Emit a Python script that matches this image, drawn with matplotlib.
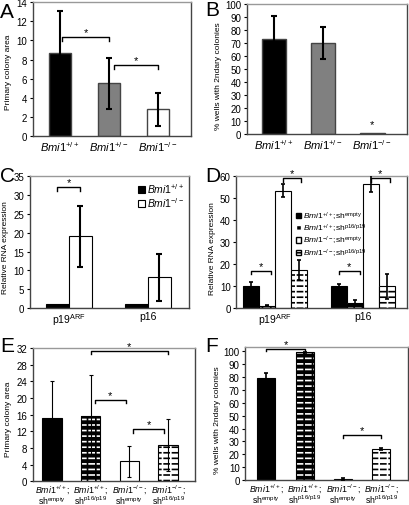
import matplotlib
matplotlib.use('Agg')
import matplotlib.pyplot as plt
from matplotlib.patches import Patch
import numpy as np

plt.rcParams['font.family'] = ['Liberation Sans', 'DejaVu Sans']
plt.rcParams['mathtext.fontset'] = 'custom'
plt.rcParams['mathtext.rm'] = 'Liberation Sans'
plt.rcParams['mathtext.it'] = 'Liberation Sans:italic'
plt.rcParams['hatch.linewidth'] = 1.2

# genotype labels
wt = r'$\mathit{Bmi1}^{+/+}$'
het = r'$\mathit{Bmi1}^{+/-}$'
ko = r'$\mathit{Bmi1}^{-/-}$'
genes = [r'p19$^{\mathrm{ARF}}$', 'p16']

# panel A: primary colony area
a_vals = [8.7, 5.5, 2.8]
a_err = [4.4, 2.7, 1.7]

# panel B: % wells with secondary colonies
b_vals = [73, 70, 1]
b_err = [18, 12.5, 0]

# panel C: relative RNA expression
c_wt = [1, 1]
c_ko = [19, 8.2]
c_ko_err = [8.1, 6.2]

# panel D: relative RNA expression with shRNA
d_wt_empty = [10, 10]
d_wt_empty_err = [2, 1.1]
d_wt_sh = [1.2, 2.3]
d_wt_sh_err = [0.3, 1.2]
d_ko_empty = [53.4, 56.6]
d_ko_empty_err = [3, 3.8]
d_ko_sh = [17.3, 10]
d_ko_sh_err = [4.5, 5.7]

# panels E and F
ef_labels = [wt + ';\n' + r'sh$^{\mathrm{empty}}$',
             wt + ';\n' + r'sh$^{\mathrm{p16/p19}}$',
             ko + ';\n' + r'sh$^{\mathrm{empty}}$',
             ko + ';\n' + r'sh$^{\mathrm{p16/p19}}$']
e_vals = [15.3, 15.8, 4.8, 8.7]
e_err = [8.7, 9.7, 3.7, 6.3]
f_vals = [79, 99, 1, 24]
f_err = [4, 0.5, 1, 1]

d_legend = [wt + r';sh$^{\mathrm{empty}}$', wt + r';sh$^{\mathrm{p16/p19}}$',
            ko + r';sh$^{\mathrm{empty}}$', ko + r';sh$^{\mathrm{p16/p19}}$']

SPINE = '#444444'
YLAB = 6


def style(ax, ylim, yticks):
    ax.set_ylim(*ylim)
    ax.set_yticks(yticks)
    for s in ax.spines.values():
        s.set_color(SPINE)
        s.set_linewidth(1)
    ax.spines['top'].set_color('#999999')
    ax.tick_params(axis='y', labelsize=7, length=2, pad=2)
    ax.tick_params(axis='x', length=0, pad=2, labelsize=7.5)


def hatched_bar(ax, x, h, w, face, line):
    # dashed look: horizontal lines broken by vertical lines of face colour
    ax.bar(x, h, w, color=face, edgecolor='none', zorder=2)
    ax.bar(x, h, w, fill=False, hatch='---', edgecolor=line, linewidth=0, zorder=2)
    ax.bar(x, h, w, fill=False, hatch='||', edgecolor=face, linewidth=0, zorder=2)
    ax.bar(x, h, w, fill=False, edgecolor='k', linewidth=0.8, zorder=3)


def bracket(ax, x1, x2, y, h):
    ax.plot([x1, x1, x2, x2], [y - h, y, y, y - h], color='k', lw=1, zorder=4)
    ax.text((x1 + x2) / 2, y, '*', ha='center', va='bottom', fontsize=8)


def letter(fig, x, y, s):
    fig.text(x / 410, 1 - y / 506, s, fontsize=15, va='top', ha='left')


fig = plt.figure(figsize=(4.1, 5.06), dpi=100)

# ---- A
ax = fig.add_axes([0.080, 0.729, 0.386, 0.265])
x = np.arange(3)
ax.bar(x, a_vals, 0.45, color=['black', '#808080', 'white'], edgecolor=SPINE, lw=1, zorder=2)
ax.errorbar(x, a_vals, yerr=a_err, fmt='none', ecolor='k', elinewidth=1.5, capsize=2, capthick=1.5, zorder=3)
bracket(ax, 0.05, 1.0, 10.3, 0.35)
bracket(ax, 1.1, 2.0, 7.4, 0.35)
style(ax, (0, 14), range(0, 15, 2))
ax.set_xlim(-0.55, 2.68)
ax.set_xticks(x)
ax.set_xticklabels([wt, het, ko], fontsize=8)
ax.set_ylabel('Primary colony area', fontsize=YLAB, labelpad=3, y=0.48)
letter(fig, 0, 3, 'A')

# ---- B
ax = fig.add_axes([0.602, 0.733, 0.391, 0.257])
ax.bar(x, b_vals, 0.5, color=['black', '#808080', 'black'], edgecolor=SPINE, lw=1, zorder=2)
ax.errorbar(x[:2], b_vals[:2], yerr=b_err[:2], fmt='none', ecolor='k', elinewidth=1.5, capsize=2, capthick=1.5, zorder=3)
ax.text(2, 4, '*', ha='center', va='bottom', fontsize=8)
style(ax, (0, 100), range(0, 101, 10))
ax.set_xlim(-0.55, 2.71)
ax.set_xticks(x)
ax.set_xticklabels([wt, het, ko], fontsize=8)
ax.set_ylabel('% wells with 2ndary colonies', fontsize=YLAB, labelpad=2, y=0.45)
letter(fig, 205, 1, 'B')

# ---- C
ax = fig.add_axes([0.073, 0.389, 0.388, 0.261])
g = np.arange(2)
w = 0.29
ax.bar(g - w / 2, c_wt, w, color='black', edgecolor='k', lw=0.8, zorder=2, label=wt)
ax.bar(g + w / 2, c_ko, w, color='white', edgecolor='k', lw=0.8, zorder=2, label=ko)
ax.errorbar(g + w / 2, c_ko, yerr=c_ko_err, fmt='none', ecolor='k', elinewidth=1.5, capsize=2, capthick=1.5, zorder=3)
bracket(ax, -w / 2, w / 2, 32, 0.9)
style(ax, (0, 35), range(0, 36, 5))
ax.set_xlim(-0.49, 1.52)
ax.set_xticks(g)
ax.set_xticklabels(genes)
ax.set_ylabel('Relative RNA expression', fontsize=YLAB, labelpad=3, y=0.47)
ax.legend(loc='upper right', frameon=False, fontsize=7.5, handlelength=0.6, handleheight=0.6,
          handletextpad=0.2, labelspacing=0.0, borderaxespad=0.1)
letter(fig, 0, 167, 'C')

# ---- D
ax = fig.add_axes([0.576, 0.389, 0.417, 0.261])
w = 0.18
pos = [g - 1.5 * w, g - 0.5 * w, g + 0.5 * w, g + 1.5 * w]
ax.bar(pos[0], d_wt_empty, w, color='black', edgecolor='k', lw=0.8, zorder=2)
for i in range(2):
    hatched_bar(ax, pos[1][i], d_wt_sh[i], w, 'black', 'white')
ax.bar(pos[2], d_ko_empty, w, color='white', edgecolor='k', lw=0.8, zorder=2)
for i in range(2):
    hatched_bar(ax, pos[3][i], d_ko_sh[i], w, 'white', 'black')
for p, v, e in zip(pos, [d_wt_empty, d_wt_sh, d_ko_empty, d_ko_sh],
                   [d_wt_empty_err, d_wt_sh_err, d_ko_empty_err, d_ko_sh_err]):
    ax.errorbar(p, v, yerr=e, fmt='none', ecolor='k', elinewidth=1.2, capsize=1.5, capthick=1.2, zorder=4)
for i in range(2):
    bracket(ax, pos[0][i], pos[1][i] + 0.05, 16.8, 1.5)
    bracket(ax, pos[2][i], pos[3][i] + 0.03, 59, 1.5)
style(ax, (0, 60), range(0, 61, 10))
ax.set_xlim(-0.44, 1.5)
ax.set_xticks(g)
ax.set_xticklabels(genes)
ax.set_ylabel('Relative RNA expression', fontsize=YLAB, labelpad=3, y=0.46)
# legend proxies
handles = [Patch(facecolor='black', edgecolor='k'),
           Patch(facecolor='black', edgecolor='white', hatch='---'),
           Patch(facecolor='white', edgecolor='k'),
           Patch(facecolor='white', edgecolor='k', hatch='---')]
ax.legend(handles, d_legend, loc='upper left', bbox_to_anchor=(0.33, 0.77), frameon=False,
          fontsize=6, handlelength=0.6, handleheight=0.6, handletextpad=0.2,
          labelspacing=0.0, borderaxespad=0)
letter(fig, 205, 167, 'D')

# ---- E
ax = fig.add_axes([0.080, 0.047, 0.396, 0.263])
x4 = np.arange(4)
w = 0.5
ax.bar(x4[0], e_vals[0], w, color='black', edgecolor='k', lw=0.8, zorder=2)
hatched_bar(ax, x4[1], e_vals[1], w, 'black', 'white')
ax.bar(x4[2], e_vals[2], w, color='white', edgecolor='k', lw=0.8, zorder=2)
hatched_bar(ax, x4[3], e_vals[3], w, 'white', 'black')
ax.errorbar(x4, e_vals, yerr=e_err, fmt='none', ecolor='k', elinewidth=0.8, capsize=1.5, capthick=0.8, zorder=4)
bracket(ax, 1, 3, 31.3, 0.8)
bracket(ax, 1.1, 1.9, 19.5, 0.8)
bracket(ax, 2.1, 2.9, 12.5, 0.8)
style(ax, (0, 32), range(0, 33, 4))
ax.set_xlim(-0.5, 3.7)
ax.set_xticks(x4)
ax.set_xticklabels(ef_labels, fontsize=6.3, linespacing=0.85)
ax.tick_params(axis='x', pad=1)
ax.set_ylabel('Primary colony area', fontsize=YLAB, labelpad=3, y=0.47)
letter(fig, 0, 337, 'E')

# ---- F
ax = fig.add_axes([0.598, 0.049, 0.397, 0.263])
w = 0.47
ax.bar(x4[0], f_vals[0], w, color='black', edgecolor='k', lw=0.8, zorder=2)
hatched_bar(ax, x4[1], f_vals[1], w, 'black', 'white')
ax.bar(x4[2], f_vals[2], w, color='black', edgecolor='k', lw=0.8, zorder=2)
hatched_bar(ax, x4[3], f_vals[3], w, 'white', 'black')
ax.errorbar(x4, f_vals, yerr=f_err, fmt='none', ecolor='k', elinewidth=1.2, capsize=1.5, capthick=1.2, zorder=4)
bracket(ax, 0, 1, 101.5, 1.5)
bracket(ax, 2, 3, 35, 2.5)
style(ax, (0, 100), range(0, 101, 10))
ax.set_ylim(0, 103)
ax.set_xlim(-0.55, 3.69)
ax.set_xticks(x4)
ax.set_xticklabels(ef_labels, fontsize=6.3, linespacing=0.85)
ax.tick_params(axis='x', pad=1)
ax.set_ylabel('% wells with 2ndary colonies', fontsize=YLAB, labelpad=2, y=0.46)
letter(fig, 205, 337, 'F')

fig.savefig('out.png', dpi=100)
